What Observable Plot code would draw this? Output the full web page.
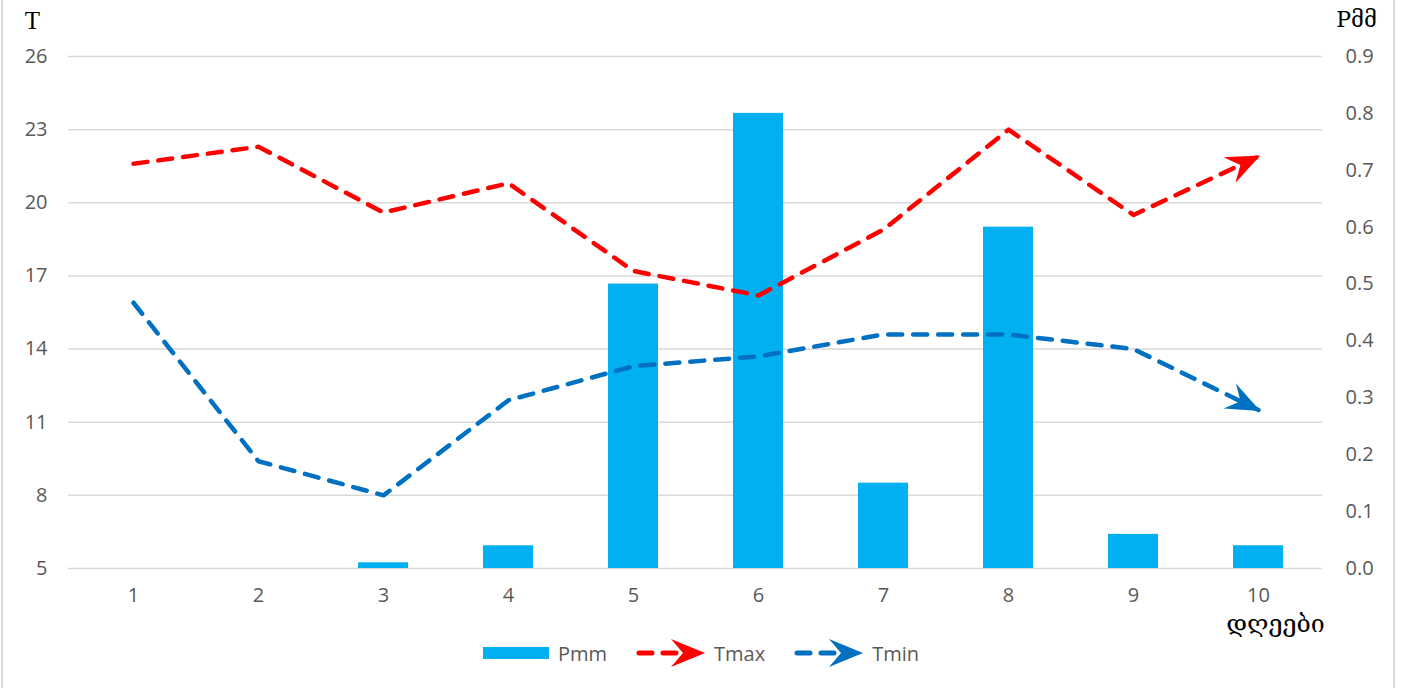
<!DOCTYPE html>
<html>
<head>
<meta charset="utf-8">
<script src="https://cdn.jsdelivr.net/npm/d3@7"></script>
<script src="https://cdn.jsdelivr.net/npm/@observablehq/plot@0.6"></script>
<style>
  body { margin: 0; background: #fff; font-family: "Open Sans", Lato, sans-serif; }
  #wrap { position: relative; width: 1402px; height: 688px; overflow: hidden; background: #fff; }
  #frame { position: absolute; left: 1px; top: 0; width: 1394px; height: 688px; border-left: 2px solid #d9d9d9; border-right: 2px solid #d9d9d9; box-sizing: border-box; pointer-events: none; }
  #chart { position: absolute; left: 0; top: 0; }
  #legend { position: absolute; left: 0; top: 638px; width: 1402px; height: 30px; display: flex; justify-content: center; align-items: center; font-size: 20px; color: #595959; }
  .item { display: flex; align-items: center; margin: 0 14px; }
  .item svg { margin-right: 9px; }
</style>
</head>
<body>
<div id="wrap">
  <div id="chart"></div>
  <div id="legend"></div>
  <div id="frame"></div>
</div>
<script>
// ---- data ----
const days = [1, 2, 3, 4, 5, 6, 7, 8, 9, 10];
const pmm  = [0, 0, 0.01, 0.04, 0.5, 0.8, 0.15, 0.6, 0.06, 0.04];
const tmax = [21.6, 22.3, 19.6, 20.8, 17.2, 16.2, 18.9, 23.0, 19.5, 21.9];
const tmin = [15.9, 9.4, 8.0, 11.9, 13.3, 13.7, 14.6, 14.6, 14.0, 11.5];
const leftTicks  = [5, 8, 11, 14, 17, 20, 23, 26];
const rightTicks = [0, 0.1, 0.2, 0.3, 0.4, 0.5, 0.6, 0.7, 0.8, 0.9];
const seriesNames = ["Pmm", "Tmax", "Tmin"];
const colors = { Pmm: "#00B0F0", Tmax: "#FF0000", Tmin: "#0070C0" };
const leftLabel = "T";
const rightLabel = "Pმმ";
const xLabel = "დღეები";

// right axis (0..0.9) mapped onto left axis domain (5..26)
const yMin = 5, yMax = 26, pMax = 0.9;
const toLeft = p => yMin + p * (yMax - yMin) / pMax;

const rows = days.map((d, i) => ({ day: d, p: pmm[i], tmax: tmax[i], tmin: tmin[i] }));

// filled "stealth" arrowhead marker
function stealth(color) {
  const m = d3.create("svg:marker")
    .attr("viewBox", "-34 -16 36 32")
    .attr("markerWidth", 36)
    .attr("markerHeight", 32)
    .attr("markerUnits", "userSpaceOnUse")
    .attr("refX", 0)
    .attr("refY", 0)
    .attr("orient", "auto")
    .attr("fill", color)
    .attr("stroke", "none");
  m.append("path").attr("d", "M2,0 L-32,-14 L-20,0 L-32,14 Z");
  return m.node();
}

const lineStyle = { strokeWidth: 4.5, strokeDasharray: "14,11", strokeLinecap: "round", strokeLinejoin: "round" };

function build(marker) {
  return Plot.plot({
    width: 1402,
    height: 640,
    marginTop: 56,
    marginBottom: 72,
    marginLeft: 68,
    marginRight: 80,
    style: { fontFamily: "'Open Sans', Lato, sans-serif", fontSize: "20px", color: "#595959", background: "transparent" },
    x: { type: "band", domain: days, paddingInner: 0.6, paddingOuter: 0.3, label: null },
    y: { domain: [yMin, yMax], label: null },
    marks: [
      Plot.gridY(leftTicks, { stroke: "#d9d9d9", strokeOpacity: 1, strokeWidth: 1.5 }),
      Plot.barY(rows, { x: "day", y1: yMin, y2: d => toLeft(d.p), fill: colors.Pmm, inset: 0 }),
      Plot.lineY(rows, { x: "day", y: "tmax", stroke: colors.Tmax, markerEnd: marker, ...lineStyle }),
      Plot.lineY(rows, { x: "day", y: "tmin", stroke: colors.Tmin, markerEnd: marker, ...lineStyle }),
      Plot.axisY(leftTicks, { anchor: "left", tickSize: 0, tickPadding: 21, label: null, fill: "#595959" }),
      Plot.axisY(rightTicks.map(toLeft), { anchor: "right", tickSize: 0, tickPadding: 23, label: null, fill: "#595959",
        tickFormat: v => ((v - yMin) * pMax / (yMax - yMin)).toFixed(1) }),
      Plot.axisX({ tickSize: 0, tickPadding: 19, label: null, fill: "#595959" }),
      Plot.text([leftLabel], { frameAnchor: "top-left", text: d => d, dx: -36, dy: -28, lineAnchor: "bottom",
        textAnchor: "middle", fontSize: 25, fontFamily: "'Liberation Serif', 'DejaVu Serif', serif", fill: "#000" }),
      Plot.text([rightLabel], { frameAnchor: "top-right", text: d => d, dx: 34, dy: -30, lineAnchor: "bottom",
        textAnchor: "middle", fontSize: 22, fontFamily: "'DejaVu Serif', 'Liberation Serif', serif", fill: "#000" }),
      Plot.text([xLabel], { frameAnchor: "bottom-right", text: d => d, dx: -47, dy: 46, lineAnchor: "top",
        textAnchor: "middle", fontSize: 25, fontFamily: "'DejaVu Serif', 'DejaVu Sans', serif", fill: "#000" })
    ]
  });
}

let chart;
try { chart = build(stealth); } catch (e) { chart = build("arrow"); }
document.getElementById("chart").append(chart);

// legend
const legend = document.getElementById("legend");
seriesNames.forEach(name => {
  const item = document.createElement("div");
  item.className = "item";
  const s = d3.create("svg").attr("width", name === "Pmm" ? 66 : 70).attr("height", 32);
  if (name === "Pmm") {
    s.append("rect").attr("x", 0).attr("y", 10).attr("width", 66).attr("height", 12).attr("fill", colors.Pmm);
  } else {
    s.append("line").attr("x1", 4).attr("x2", 50).attr("y1", 16).attr("y2", 16)
      .attr("stroke", colors[name]).attr("stroke-width", 5).attr("stroke-dasharray", "13,11").attr("stroke-linecap", "round");
    s.append("path").attr("d", "M70,16 L36,2 L48,16 L36,30 Z").attr("fill", colors[name]);
  }
  item.append(s.node());
  const t = document.createElement("span");
  t.textContent = name;
  item.append(t);
  legend.append(item);
});
</script>
</body>
</html>
